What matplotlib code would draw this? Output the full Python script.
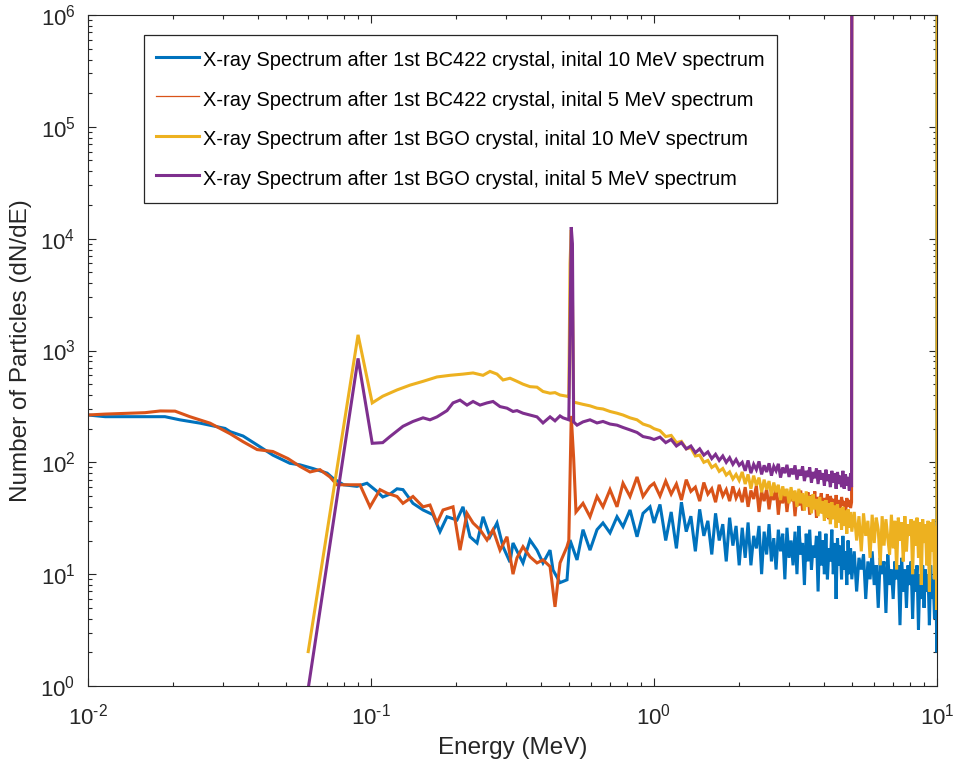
import numpy as np
import matplotlib; matplotlib.use("Agg")
import matplotlib.pyplot as plt
from matplotlib.lines import Line2D
from matplotlib.ticker import LogLocator, NullFormatter, FuncFormatter

# shared energy grids (MeV) above 1 MeV
e_1to2 = [1.05, 1.10, 1.15, 1.20, 1.25, 1.30, 1.35, 1.40, 1.45, 1.50,
          1.55, 1.60, 1.65, 1.70, 1.75, 1.80, 1.85, 1.90, 1.95, 2.00]
e_2to5 = [2.05, 2.10, 2.15, 2.20, 2.25, 2.30, 2.35, 2.40, 2.45, 2.50,
          2.55, 2.60, 2.65, 2.70, 2.75, 2.80, 2.85, 2.90, 2.95, 3.00,
          3.05, 3.10, 3.15, 3.20, 3.25, 3.30, 3.35, 3.40, 3.45, 3.50,
          3.55, 3.60, 3.65, 3.70, 3.75, 3.80, 3.85, 3.90, 3.95, 4.00,
          4.05, 4.10, 4.15, 4.20, 4.25, 4.30, 4.35, 4.40, 4.45, 4.50,
          4.55, 4.60, 4.65, 4.70, 4.75, 4.80, 4.85, 4.90, 4.95]
e_5to10 = [5.0, 5.1, 5.2, 5.3, 5.4, 5.5, 5.6, 5.7, 5.8, 5.9,
           6.0, 6.1, 6.2, 6.3, 6.4, 6.5, 6.6, 6.7, 6.8, 6.9,
           7.0, 7.1, 7.2, 7.3, 7.4, 7.5, 7.6, 7.7, 7.8, 7.9,
           8.0, 8.1, 8.2, 8.3, 8.4, 8.5, 8.6, 8.7, 8.8, 8.9,
           9.0, 9.1, 9.2, 9.3, 9.4, 9.5, 9.6, 9.7, 9.8, 9.9]
e_end10 = [9.99, 10.0]
e_end5 = [4.99, 5.0]

# BC422, 10 MeV (blue)
blue_E_low = [0.0100, 0.0115, 0.0187, 0.0211, 0.0249, 0.0305, 0.0318, 0.0353, 0.0396, 0.0450,
              0.0517, 0.0561, 0.0624, 0.0700, 0.0734, 0.0800, 0.0892, 0.0968, 0.1050, 0.1100,
              0.1167, 0.1236, 0.1297, 0.1407, 0.1527, 0.1656, 0.1753, 0.1856, 0.2013, 0.2114,
              0.2238, 0.2370, 0.2488, 0.2633, 0.2788, 0.2928, 0.3099, 0.3175, 0.3444, 0.3646,
              0.3860, 0.4053, 0.4292, 0.4397, 0.4655, 0.4927, 0.5049, 0.5346, 0.5612, 0.5941,
              0.6290, 0.6602, 0.6991, 0.7401, 0.7771, 0.8227, 0.8710, 0.9146, 0.9681, 1.0]
blue_N_low = [265, 256, 256, 240, 224, 201, 188, 172, 143, 116,
              98, 95, 88, 80, 72, 63, 61, 65, 55, 49,
              52, 58, 57, 43, 37.5, 34, 24, 32.6, 30.5, 40,
              21.6, 19, 32.6, 21.6, 28.7, 17.6, 12.8, 19, 12.6, 20.2,
              16.4, 12.6, 16.4, 10.9, 8.4, 8.9, 20.2, 13.4, 25, 16.4,
              25, 28.7, 23.4, 32.6, 26.6, 37.5, 21.6, 35, 40, 28.7]
blue_N_1to2 = [42, 20, 36, 17, 44, 24, 33, 16, 38, 22, 30, 15, 35, 20, 28, 13, 32, 18, 27, 12]
blue_N_2to5 = [26, 14, 29, 12, 22, 17, 27, 10, 24, 15,
               28, 13, 21, 11, 25, 16, 23, 9, 26, 14,
               20, 12, 24, 10, 27, 15, 19, 8, 23, 13,
               25, 11, 18, 14, 22, 7, 24, 12, 20, 10,
               23, 9, 17, 13, 25, 10, 19, 6, 21, 12,
               18, 9, 22, 11, 16, 8, 20, 10, 17]
blue_N_5to10 = [9, 16, 7, 14, 11, 15, 6, 13, 9, 16,
                8, 12, 5, 14, 10, 13, 4.5, 15, 8, 11,
                6, 13, 9, 12, 3.5, 14, 7, 11, 5, 12,
                8, 13, 4, 11, 7, 12, 3.2, 10, 6, 12,
                5, 11, 7, 10, 3.5, 12, 6, 9, 4, 10]
blue_N_end = [2.0, 1e6]

# BC422, 5 MeV (orange)
orange_E_low = [0.0100, 0.0115, 0.0159, 0.0180, 0.0203, 0.0229, 0.0270, 0.0318, 0.0353, 0.0396,
                0.0450, 0.0509, 0.0561, 0.0609, 0.0660, 0.0716, 0.0758, 0.0843, 0.0914, 0.0992,
                0.1076, 0.1139, 0.1236, 0.1297, 0.1407, 0.1527, 0.1616, 0.1711, 0.1797, 0.1949,
                0.2063, 0.2184, 0.2294, 0.2428, 0.2570, 0.2699, 0.2857, 0.3024, 0.3175, 0.3280,
                0.3444, 0.3646, 0.3860, 0.4053, 0.4292, 0.4469, 0.4655, 0.4927, 0.5000, 0.5100,
                0.5200, 0.5300, 0.5612, 0.5941, 0.6290, 0.6602, 0.6991, 0.7401, 0.7771, 0.8227,
                0.8710, 0.9146, 0.9681, 1.0]
orange_N_low = [265, 270, 278, 288, 287, 256, 224, 180, 153, 130,
                125, 108, 92, 82, 86, 74, 63, 63, 63, 40,
                57, 53, 49.5, 43, 49.5, 40, 41.5, 28.7, 37.5, 40,
                16.4, 35, 28.7, 25, 20.2, 25, 16.4, 21.6, 10, 14,
                17.6, 14.3, 12.6, 13.4, 11.7, 5.1, 12.6, 17.6, 20, 260,
                110, 36, 43, 32.6, 49.5, 40, 57, 40, 65, 49.5,
                74, 49.5, 61, 65]
orange_N_1to2 = [50, 68, 52, 64, 46, 70, 55, 60, 45, 66, 52, 58, 44, 63, 50, 57, 45, 61, 48, 55]
orange_N_2to5 = [44, 60, 40, 56, 47, 62, 36, 55, 45, 58,
                 38, 54, 46, 60, 34, 53, 43, 57, 36, 52,
                 45, 55, 33, 52, 41, 56, 37, 50, 44, 54,
                 34, 51, 40, 55, 32, 49, 42, 53, 35, 48,
                 39, 52, 31, 50, 43, 47, 34, 51, 38, 46,
                 36, 49, 41, 45, 35, 48, 40, 46, 39]
orange_N_end = [44, 1e6]

# BGO, 10 MeV (yellow)
yellow_E_low = [0.06, 0.09, 0.101, 0.110, 0.1236, 0.1373, 0.1527, 0.1711, 0.1902, 0.2114,
                0.2294, 0.2488, 0.2633, 0.2788, 0.2928, 0.3099, 0.3280, 0.3444, 0.3646, 0.3860,
                0.4053, 0.4292, 0.4469, 0.4655, 0.4927, 0.5000, 0.5050, 0.5100, 0.5150, 0.5200,
                0.5346, 0.5612, 0.5941, 0.6290, 0.6602, 0.6991, 0.7401, 0.7771, 0.8227, 0.8710,
                0.9146, 0.9681, 1.0]
yellow_N_low = [2.03, 1380, 340, 390, 444, 490, 530, 580, 600, 615,
                630, 600, 650, 615, 545, 565, 530, 500, 475, 470,
                430, 415, 420, 400, 390, 385, 6000, 12000, 3000, 345,
                340, 330, 320, 305, 300, 285, 275, 265, 250, 240,
                220, 210, 200]
yellow_N_1to2 = [192, 170, 174, 150, 154, 132, 135, 114, 116, 100,
                 104, 90, 95, 83, 88, 77, 82, 71, 78, 69]
yellow_N_2to5 = [82, 64, 78, 58, 76, 62, 73, 54, 70, 57,
                 68, 50, 66, 54, 63, 46, 61, 50, 58, 43,
                 60, 45, 56, 40, 58, 43, 53, 37, 55, 40,
                 50, 35, 52, 38, 47, 33, 49, 35, 45, 30,
                 46, 32, 43, 28, 44, 31, 41, 26, 42, 29,
                 39, 25, 40, 27, 37, 23, 38, 26, 36]
yellow_N_5to10 = [24, 36, 20, 33, 16, 35, 22, 30, 14, 34,
                  19, 32, 25, 12, 33, 18, 31, 21, 15, 34,
                  17, 30, 11, 32, 20, 29, 13, 33, 16, 28,
                  22, 31, 10, 30, 18, 32, 14, 29, 8, 31,
                  19, 28, 12, 30, 7, 29, 16, 31, 9, 27]
yellow_N_end = [4.8, 1e6]

# BGO, 5 MeV (purple)
purple_E_low = [0.06, 0.09, 0.101, 0.105, 0.110, 0.1167, 0.1297, 0.1407, 0.1527, 0.1616,
                0.1711, 0.1856, 0.1949, 0.2063, 0.2184, 0.2294, 0.2428, 0.2570, 0.2699, 0.2857,
                0.3024, 0.3175, 0.3280, 0.3444, 0.3646, 0.3860, 0.4053, 0.4292, 0.4469, 0.4655,
                0.4770, 0.5000, 0.5050, 0.5100, 0.5150, 0.5200, 0.5346, 0.5612, 0.5941, 0.6290,
                0.6602, 0.6991, 0.7401, 0.7771, 0.8227, 0.8710, 0.9146, 0.9681, 1.0]
purple_N_low = [0.95, 850, 148, 149, 150, 170, 210, 232, 250, 240,
                255, 290, 340, 360, 325, 350, 325, 340, 350, 315,
                305, 285, 290, 275, 265, 255, 225, 255, 235, 260,
                250, 240, 1500, 12700, 9000, 230, 215, 230, 240, 225,
                232, 220, 215, 205, 195, 185, 170, 165, 160]
purple_N_1to2 = [168, 150, 160, 140, 150, 132, 140, 122, 132, 116,
                 124, 108, 118, 104, 114, 100, 110, 96, 106, 94]
purple_N_2to5 = [100, 84, 104, 80, 96, 86, 102, 78, 94, 82,
                 98, 76, 92, 84, 97, 73, 90, 80, 95, 74,
                 88, 78, 94, 70, 86, 76, 92, 68, 84, 74,
                 90, 66, 82, 72, 88, 64, 85, 70, 80, 62,
                 86, 68, 78, 60, 84, 66, 80, 58, 82, 64,
                 76, 60, 84, 58, 78, 62, 74, 56, 80]
purple_N_end = [60, 1e6]

labels = ["X-ray Spectrum after 1st BC422 crystal, inital 10 MeV spectrum",
          "X-ray Spectrum after 1st BC422 crystal, inital 5 MeV spectrum",
          "X-ray Spectrum after 1st BGO crystal, inital 10 MeV spectrum",
          "X-ray Spectrum after 1st BGO crystal, inital 5 MeV spectrum"]
colors = ["#0072BD", "#D95319", "#EDB120", "#7E2F8E"]


def decade_label(v, pos):
    p = int(round(np.log10(v)))
    return r"$10^{\text{%d}}$" % p


def main():
    plt.rcParams.update({"font.family": "Liberation Sans", "mathtext.fontset": "custom",
                         "mathtext.rm": "Liberation Sans", "mathtext.default": "regular",
                         "axes.unicode_minus": False, "axes.edgecolor": "#262626",
                         "xtick.color": "#262626", "ytick.color": "#262626"})

    series = [
        (blue_E_low + e_1to2 + e_2to5 + e_5to10 + e_end10,
         blue_N_low + blue_N_1to2 + blue_N_2to5 + blue_N_5to10 + blue_N_end),
        (orange_E_low + e_1to2 + e_2to5 + e_end5,
         orange_N_low + orange_N_1to2 + orange_N_2to5 + orange_N_end),
        (yellow_E_low + e_1to2 + e_2to5 + e_5to10 + e_end10,
         yellow_N_low + yellow_N_1to2 + yellow_N_2to5 + yellow_N_5to10 + yellow_N_end),
        (purple_E_low + e_1to2 + e_2to5 + e_end5,
         purple_N_low + purple_N_1to2 + purple_N_2to5 + purple_N_end),
    ]

    fig = plt.figure(figsize=(9.57, 7.69), dpi=100)
    ax = fig.add_axes([88/957, 1 - 686/769, 849/957, 671/769])
    for (e, n), c in zip(series, colors):
        ax.plot(e, n, color=c, lw=2.2, solid_joinstyle="miter")

    ax.set_xscale("log"); ax.set_yscale("log")
    ax.set_xlim(1e-2, 1e1); ax.set_ylim(1e0, 1e6)
    for axis in (ax.xaxis, ax.yaxis):
        axis.set_major_locator(LogLocator(base=10, numticks=20))
        axis.set_minor_locator(LogLocator(base=10, subs=np.arange(2, 10), numticks=20))
        axis.set_major_formatter(FuncFormatter(decade_label))
        axis.set_minor_formatter(NullFormatter())
    ax.tick_params(which="both", direction="in", top=True, right=True, width=0.8)
    ax.tick_params(which="major", length=6, labelsize=16)
    ax.tick_params(which="minor", length=3)
    ax.tick_params(axis="x", which="major", pad=13)
    ax.tick_params(axis="y", which="major", pad=9)
    for s in ax.spines.values():
        s.set_linewidth(0.8)

    ax.set_xlabel("Energy (MeV)", fontsize=17.5, color="#262626", labelpad=5)
    ax.set_ylabel("Number of Particles (dN/dE)", fontsize=17.5, color="#262626", labelpad=6)

    handles = [Line2D([], [], color=colors[0], lw=2.2),
               Line2D([], [], color=colors[1], lw=0.9),
               Line2D([], [], color=colors[2], lw=2.2),
               Line2D([], [], color=colors[3], lw=2.2)]
    leg = ax.legend(handles, labels, loc="upper left", bbox_to_anchor=(0.066, 0.970),
                    borderaxespad=0, fontsize=14.4, handlelength=2.15, handletextpad=0.2,
                    handleheight=1.5, labelspacing=0.75, borderpad=0.62,
                    fancybox=False, framealpha=1)
    leg.get_frame().set_edgecolor("#262626")
    leg.get_frame().set_linewidth(0.9)

    fig.savefig("out.png", dpi=100)
    plt.close(fig)


if __name__ == "__main__":
    main()
